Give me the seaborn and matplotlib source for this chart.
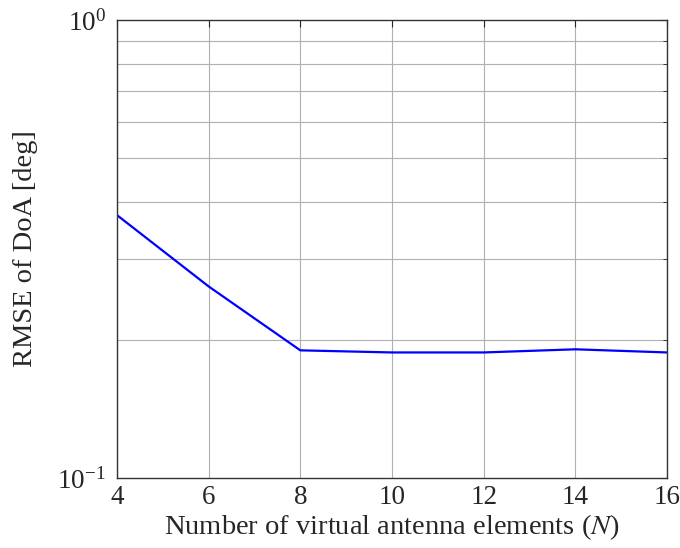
import numpy as np
import pandas as pd
import matplotlib
matplotlib.use("Agg")
import matplotlib.pyplot as plt
import seaborn as sns
from matplotlib.ticker import LogLocator, NullFormatter

# data
n_elements = [4, 6, 8, 10, 12, 14, 16]
rmse_doa = [0.375, 0.262, 0.190, 0.188, 0.188, 0.191, 0.188]

sns.set_style("white")
plt.rcParams['font.family'] = ['Liberation Serif', 'DejaVu Serif']
plt.rcParams['mathtext.fontset'] = 'stix'

df = pd.DataFrame({'N': n_elements, 'rmse': rmse_doa})

fig = plt.figure(figsize=(6.8, 5.48), dpi=100)
ax = fig.add_axes([0.172, 0.1277, 0.809, 0.8358])
sns.lineplot(data=df, x='N', y='rmse', color='#0000ff', linewidth=1.6, ax=ax)

ax.set_yscale('log')
ax.set_xlim(4, 16)
ax.set_ylim(0.1, 1)
ax.set_xticks([4, 6, 8, 10, 12, 14, 16])
ax.yaxis.set_major_locator(LogLocator(base=10, numticks=5))
ax.yaxis.set_minor_locator(LogLocator(base=10, subs=np.arange(2, 10), numticks=10))
ax.yaxis.set_minor_formatter(NullFormatter())

ax.grid(True, which='major', axis='x', color='#b0b0b0', linewidth=0.8)
ax.grid(True, which='minor', axis='y', color='#b0b0b0', linewidth=0.8)
ax.tick_params(which='major', direction='in', length=5, labelsize=19.5, width=0.8)
ax.tick_params(axis='x', pad=5)
ax.tick_params(axis='y', pad=8)
ax.tick_params(which='minor', direction='in', length=3, width=0.6)
ax.tick_params(axis='x', top=True)
ax.tick_params(axis='y', which='both', right=True)
for s in ax.spines.values():
    s.set_color('#333333')
    s.set_linewidth(1.0)

ax.set_xlabel('Number of virtual antenna elements ($N$)', fontsize=20.5, labelpad=2)
ax.set_ylabel('RMSE of DoA [deg]', fontsize=20.5, labelpad=14)

fig.savefig('out.png', dpi=100)
